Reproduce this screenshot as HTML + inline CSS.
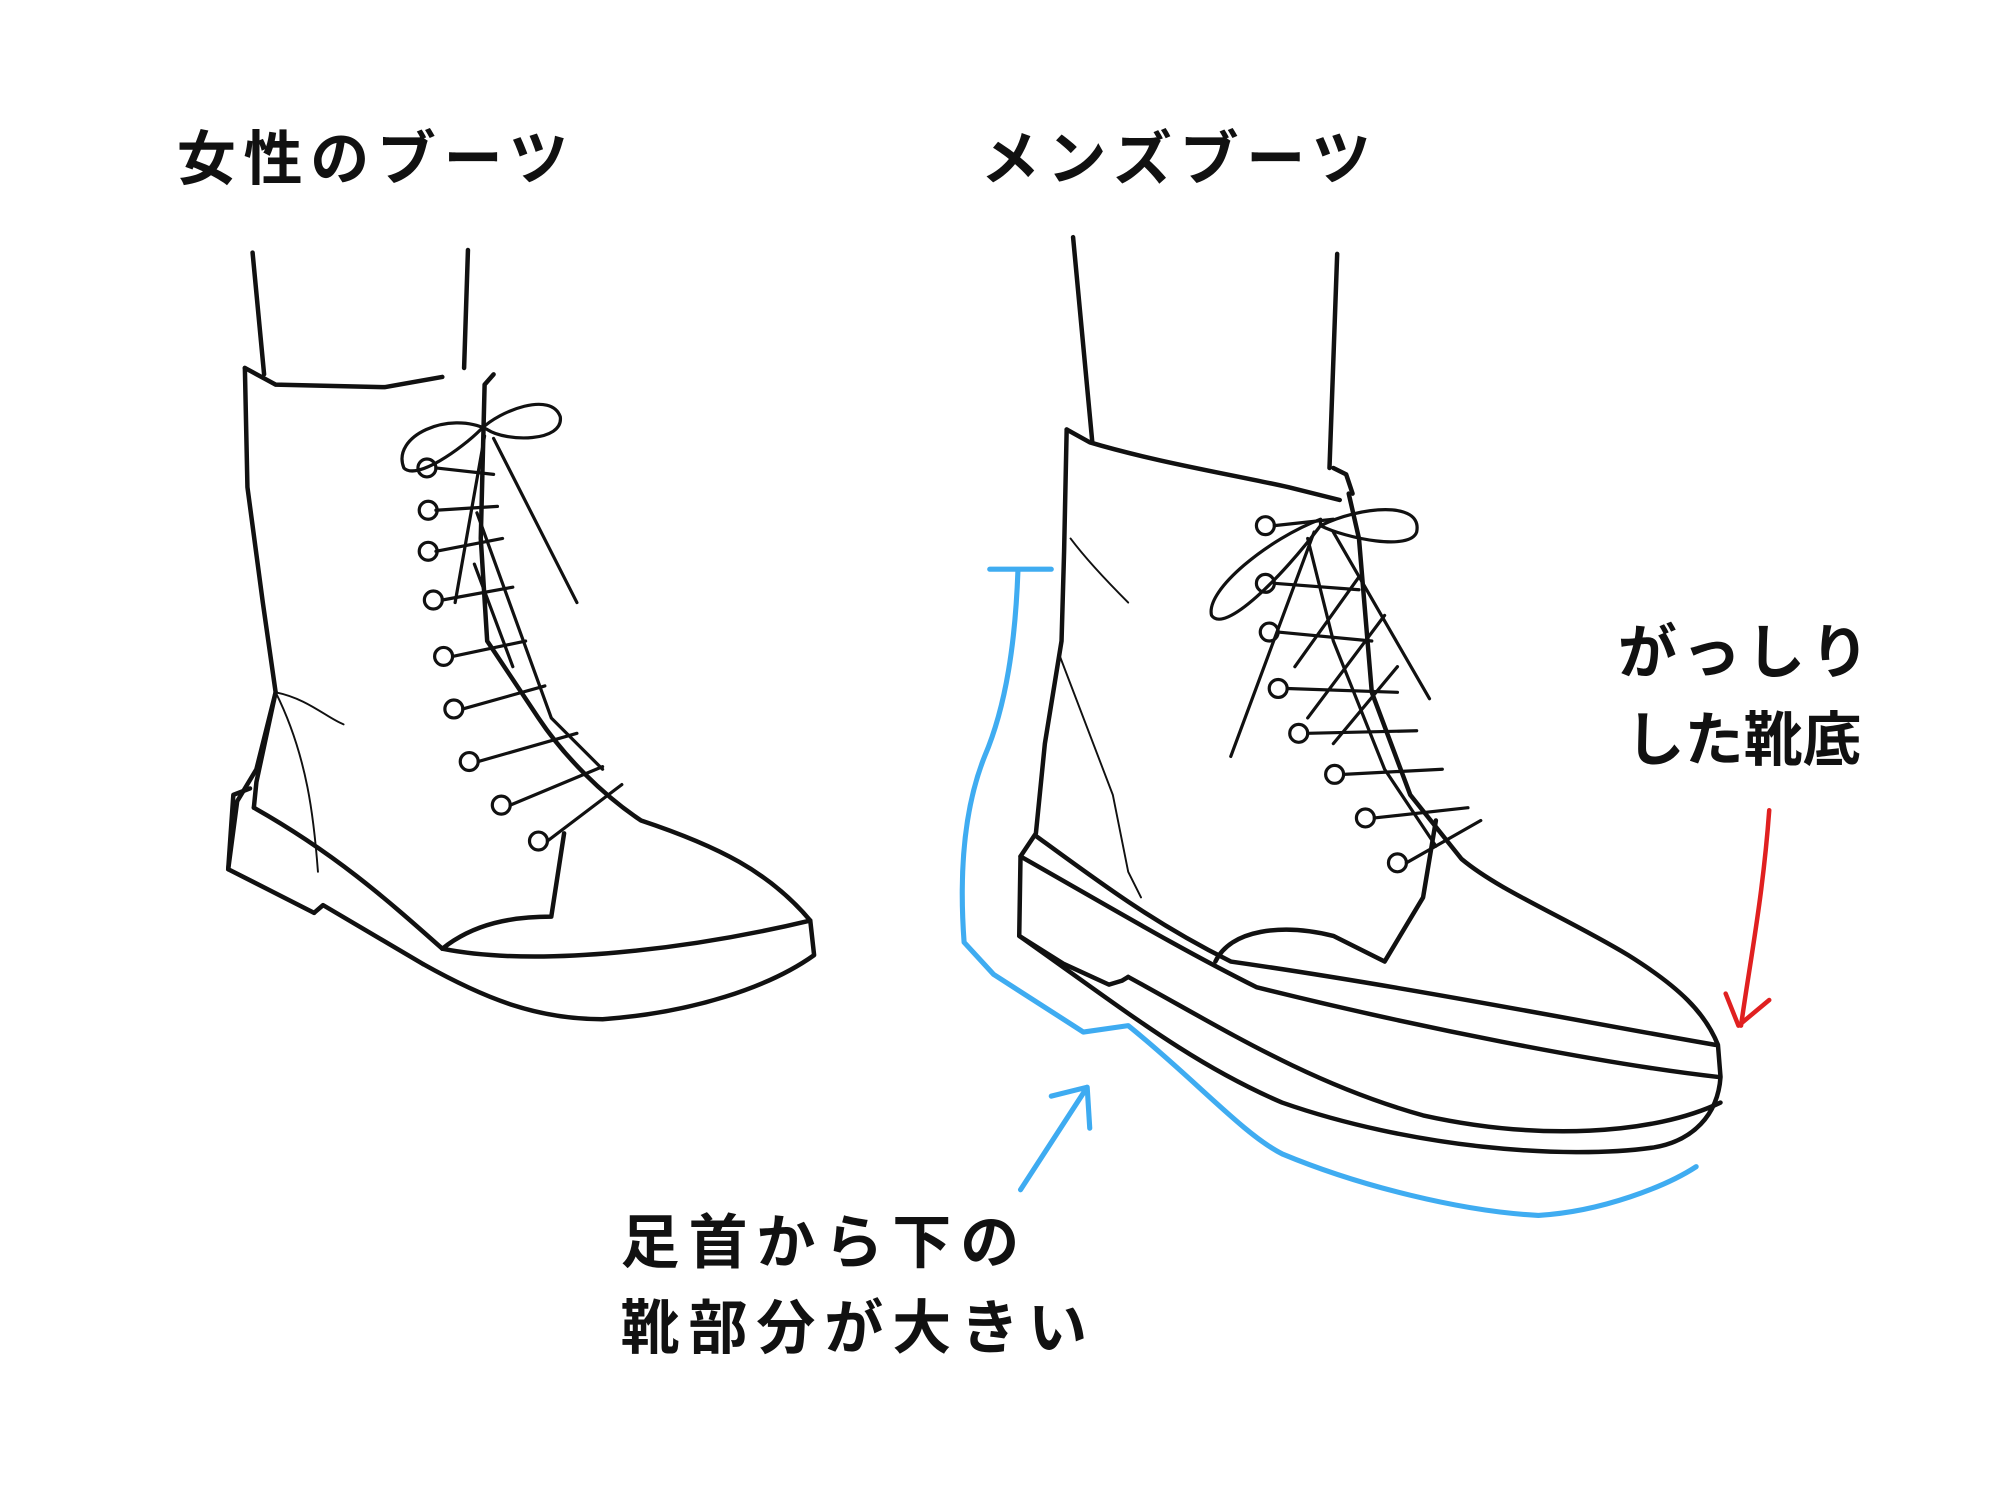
<!DOCTYPE html>
<html><head><meta charset="utf-8"><style>
html,body{margin:0;padding:0;background:#fff;}
svg{display:block;}
text{font-family:"Liberation Sans","Noto Sans CJK JP",sans-serif;font-weight:bold;fill:#111;}
</style></head><body>
<svg width="2000" height="1500" viewBox="0 0 1560 1170" xmlns="http://www.w3.org/2000/svg">
<rect width="1560" height="1170" fill="#fff"/>
<text x="138" y="140" font-size="46" letter-spacing="6">女性のブーツ</text>
<text x="765" y="140" font-size="46" letter-spacing="6">メンズブーツ</text>
<text x="1262" y="525" font-size="46" letter-spacing="4">がっしり</text>
<text x="1268" y="593" font-size="46">した靴底</text>
<text x="484" y="985" font-size="46" letter-spacing="7">足首から下の</text>
<text x="484" y="1052" font-size="46" letter-spacing="7">靴部分が大きい</text>

<g fill="none" stroke="#111" stroke-width="3.5" stroke-linecap="round" stroke-linejoin="round">
<!-- left boot -->
<path d="M197 197 L206 292"/>
<path d="M365 195 L362 287"/>
<path d="M191 287 L215 300 L300 302 L345 294"/>
<path d="M191 287 L193 380 L205 470 L215 540 L200 600 L185 625 L178 678 L245 712"/>
<path d="M245 712 L252 706 L330 752"/>
<path d="M215 540 L200 610 L198 630"/>
<path d="M178 678 L182 620 L195 615"/>
<path d="M330 752 C 380 780 420 795 470 795 C 540 790 600 770 635 745 L632 718 C 600 680 560 660 500 640 C 470 620 440 590 420 560 L380 500 L375 420 L378 300 L385 292"/>
<path d="M198 630 C 260 665 300 700 345 740 C 420 755 540 740 632 718"/>
<path d="M345 740 C 370 720 400 715 430 715 L440 650"/>
<path d="M215 540 C 240 545 255 560 268 565" stroke-width="1.5"/>
<path d="M215 540 C 240 590 245 640 248 680" stroke-width="1.5"/>
<g stroke-width="2.5">
<circle cx="333" cy="365" r="7"/><circle cx="334" cy="398" r="7"/><circle cx="334" cy="430" r="7"/><circle cx="338" cy="468" r="7"/><circle cx="346" cy="512" r="7"/><circle cx="354" cy="553" r="7"/><circle cx="366" cy="594" r="7"/><circle cx="391" cy="628" r="7"/><circle cx="420" cy="656" r="7"/>
<path d="M340 365 L385 370 M340 398 L388 395 M340 430 L392 420 M345 468 L400 458 M353 512 L410 500 M361 553 L425 535 M373 594 L450 572 M398 628 L470 598 M427 656 L485 612"/>
<path d="M380 335 C 350 320 305 340 315 365 C 325 375 360 350 375 335 C 390 320 430 305 437 325 C 440 345 395 345 380 335 Z"/>
<path d="M378 340 L355 470 M385 342 L450 470"/>
<path d="M372 400 L430 560 L470 600 M370 440 L400 520"/>
</g>
<!-- right boot -->
<path d="M837 185 L852 345"/>
<path d="M1043 198 L1037 365"/>
<path d="M832 335 L850 345 C 900 360 960 370 1005 380 L1045 390"/>
<path d="M832 335 L830 430 L828 500 L815 580 L808 650 L796 668 L795 730 L830 752 L865 768 L875 765 L880 762"/>
<path d="M1040 365 L1050 370 L1055 385"/>
<path d="M808 652 C 860 690 900 720 960 750 C 1100 770 1250 800 1338 815"/>
<path d="M796 668 C 870 710 920 740 980 770 C 1100 800 1250 830 1340 840"/>
<path d="M795 730 C 880 790 930 830 1000 860 C 1100 895 1220 905 1290 895 C 1320 890 1340 870 1342 840 L1340 815 C 1330 790 1310 770 1270 745 C 1220 715 1170 695 1140 670 L1100 620 L1070 540 L1060 420 L1052 385"/>
<path d="M880 762 C 950 800 1020 845 1110 870 C 1200 890 1290 885 1342 860"/>
<path d="M948 750 C 960 725 1000 720 1040 730 L1080 750 L1110 700 L1120 640"/>
<path d="M835 420 C 850 440 870 460 880 470" stroke-width="1.5"/>
<path d="M826 510 C 845 560 860 600 868 620 L880 680 L890 700" stroke-width="1.5"/>
<g stroke-width="2.5">
<circle cx="987" cy="410" r="7"/><circle cx="987" cy="455" r="7"/><circle cx="990" cy="493" r="7"/><circle cx="997" cy="537" r="7"/><circle cx="1013" cy="572" r="7"/><circle cx="1041" cy="604" r="7"/><circle cx="1065" cy="638" r="7"/><circle cx="1090" cy="673" r="7"/>
<path d="M994 410 L1040 405 M994 455 L1060 460 M997 493 L1070 500 M1004 537 L1090 540 M1020 572 L1105 570 M1048 604 L1125 600 M1072 638 L1145 630 M1097 673 L1155 640"/>
<path d="M1030 405 C 990 420 940 460 945 480 C 955 495 1000 450 1030 410 C 1060 395 1110 390 1105 415 C 1100 430 1050 420 1030 410 Z"/>
<path d="M1025 415 L960 590 M1040 415 L1115 545"/>
<path d="M1020 420 L1040 500 L1080 600 L1120 660 M1060 450 L1010 520 M1080 480 L1020 560 M1090 520 L1040 580"/>
</g>
</g>
<g fill="none" stroke="#2aa3f0" stroke-width="4" stroke-linecap="round" stroke-linejoin="round" opacity="0.9">
<path d="M772 444 L820 444 M794 445 C 792 500 785 550 768 590 C 752 630 748 680 752 735 L775 760 L845 805 L880 800 C 930 840 970 885 1000 900 C 1060 925 1140 945 1200 948 C 1250 945 1300 925 1323 910"/>
<path d="M796 928 L848 848 M820 855 L848 848 L850 880"/>
</g>
<g fill="none" stroke="#e02020" stroke-width="3.5" stroke-linecap="round" stroke-linejoin="round">
<path d="M1380 632 C 1375 700 1365 750 1358 800"/>
<path d="M1346 775 L1356 800 L1380 780"/>
</g>
</svg>
</body></html>
